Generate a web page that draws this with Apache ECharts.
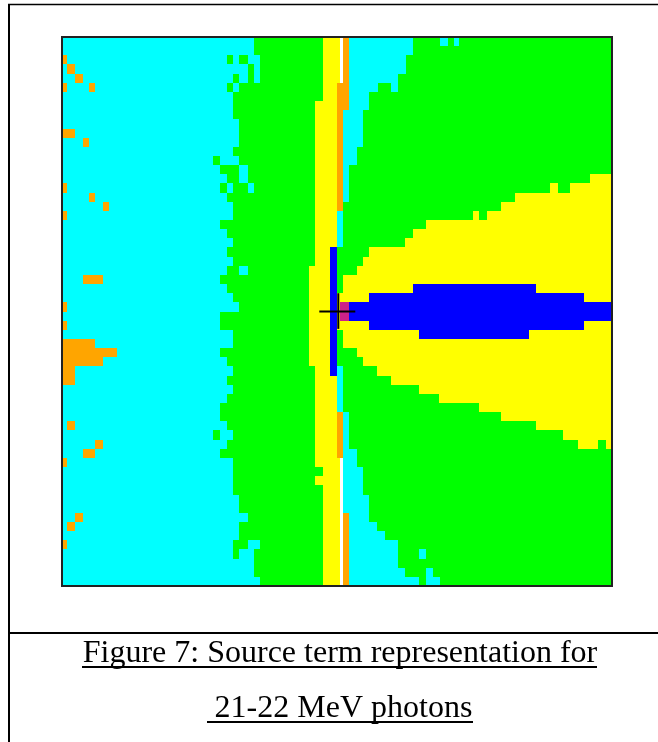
<!DOCTYPE html>
<html>
<head>
<meta charset="utf-8">
<style>html,body{margin:0;padding:0;background:#fff}#c{width:658px;height:742px}</style>
<script src="https://cdn.jsdelivr.net/npm/echarts@6/dist/echarts.min.js"></script>
</head>
<body>
<div id="c"></div>
<script>
// colour classes of the source-term map
const classes = ['#00FFFF', '#00FF00', '#FFFF00', '#FFA500', '#0000FF', '#FFFFFF', '#CC2288'];
const C = 0, G = 1, Y = 2, O = 3, B = 4, W = 5, M = 6;

const rowCount = 60;
const xExtent = 550;
const centreLeft = 275.3;

// per-row band edges (x in map units, 60 rows top to bottom)
const leftGreen = [191.7,191.7,197.7,197.7,197.7,177.3,171.3,171.3,171.3,177.3,
  177.3,177.3,171.3,177.3,157.7,165.3,157.7,165.3,171.3,171.3,
  157.7,165.3,171.3,165.3,171.3,165.3,157.7,165.3,171.3,177.3,
  157.7,157.7,171.3,171.3,157.7,165.3,171.3,165.3,171.3,165.3,
  157.7,157.7,165.3,171.3,165.3,157.7,171.3,171.3,171.3,171.3,
  177.3,177.3,185.7,177.3,177.3,171.3,171.3,191.7,191.7,197.7];
const leftYellow = [261.3,261.3,261.3,261.3,261.3,261.3,261.3,253,253,253,
  253,253,253,253,253,253,253,253,253,253,
  253,253,253,253,253,247,247,247,247,247,
  247,247,247,247,247,247,253,253,253,253,
  253,253,253,253,253,253,253,261.3,253,261.3,
  261.3,261.3,261.3,261.3,261.3,261.3,261.3,261.3,261.3,261.3];
const rightGreen = [351.3,351.3,344,344,336,316,307.3,307.3,301.3,301.3,
  301.3,301.3,295.3,295.3,287.3,287.3,287.3,287.3,281.3,281.3,
  281.3,281.3,281.3,275.3,275.3,275.3,275.3,275.3,275.3,275.3,
  275.3,275.3,275.3,275.3,275.3,275.3,281.3,281.3,281.3,281.3,
  281.3,287.3,287.3,287.3,287.3,295.3,295.3,301.3,301.3,301.3,
  307.3,307.3,307.3,315.3,323.3,336,336,336,343.3,357.3];
const rightYellow = [550,550,550,550,550,550,550,550,550,550,
  550,550,550,550,550,528,488,453.3,439.3,411.3,
  364,351.3,343.3,307.3,301.3,295.3,281.3,281.3,275.3,275.3,
  275.3,275.3,281.3,281.3,295.3,301.3,315.3,329.3,357.3,377.3,
  417.3,439.3,473.7,501.3,515.7,550,550,550,550,550,
  550,550,550,550,550,550,550,550,550,550];

// isolated runs painted over the bands: [firstRow, lastRow, x0, x1, class]
const orangeCells = [[2,2,0,5,O],[3,3,5,13,O],[4,4,13,21,O],[5,5,0,5,O],[5,5,27,33,O],
  [10,10,0,13,O],[11,11,21,27,O],[16,16,0,5,O],[17,17,27,33,O],[18,18,41,47,O],[19,19,0,5,O],
  [26,26,21,41,O],[29,29,0,5,O],[31,31,0,5,O],[33,33,0,33,O],[34,34,0,55,O],[35,35,0,41,O],
  [36,37,0,13,O],[42,42,5,13,O],[44,44,33,41,O],[45,45,21,33,O],[46,46,0,5,O],
  [52,52,13,21,O],[53,53,5,13,O],[55,55,0,5,O]];
const leftIslands = [[2,2,165.3,171.3,G],[2,2,171.3,177.3,C],[2,2,177.3,185.7,G],[2,2,185.7,197.7,C],
  [3,3,185.7,191.7,G],[3,3,191.7,197.7,C],[3,3,165.3,185.7,C],
  [4,4,171.3,177.3,G],[4,4,177.3,185.7,C],[4,4,185.7,191.7,G],[4,4,191.7,197.7,C],[4,4,165.3,171.3,C],
  [5,5,165.3,171.3,G],[5,5,171.3,177.3,C],
  [13,13,151.3,157.7,G],[13,13,157.7,177.3,C],[14,14,177.3,185.7,C],[15,15,165.3,177.3,G],[15,15,177.3,185.7,C],
  [16,16,165.3,171.3,C],[16,16,185.7,191.7,C],[25,25,177.3,185.7,C],
  [43,43,151.3,157.7,G],[43,43,157.7,171.3,C],[55,55,185.7,197.7,C],[56,56,177.3,191.7,C]];
const rightIslands = [[0,0,378,386,C],[0,0,392,397.3,C],[5,5,329.3,336,C],[16,16,495.7,508,G],
  [19,19,417.3,425.3,G],[44,44,535.7,544,G],[56,56,357.3,364,C],[58,58,364,371.3,C],
  [59,59,357.3,364,G],[59,59,364,378,C]];
const centreRuns = [[0,4,275.3,278,Y],[0,4,278,281.3,W],[0,4,281.3,287.3,O],[5,7,275.3,287.3,O],
  [8,18,275.3,281.3,O],[23,36,267.7,275.3,B],[41,45,275.3,281.3,O],
  [46,59,275.3,278,Y],[46,59,278,281.3,W],[52,59,281.3,287.3,O]];
const sourceRuns = [[27,27,351.3,473.7,B],[28,28,307.3,522,B],[29,30,287.3,550,B],[29,30,278,287.3,M],
  [31,31,307.3,522,B],[32,32,357.3,467.3,B]];

// source position marker (x in map units, y in rows)
const crossH = [[257.3, 30], [293.3, 30]];
const crossV = [[276.3, 28], [276.3, 31.9]];

// caption
const captionLines = ['Figure 7: Source term representation for', '21-22 MeV photons'];

const cells = [];
for (let r = 0; r < rowCount; r++) {
  cells.push([r, r, 0, leftGreen[r], C]);
  cells.push([r, r, leftGreen[r], leftYellow[r], G]);
  cells.push([r, r, leftYellow[r], centreLeft, Y]);
  cells.push([r, r, centreLeft, rightGreen[r], C]);
  cells.push([r, r, rightGreen[r], rightYellow[r], G]);
  cells.push([r, r, rightYellow[r], xExtent, Y]);
}
cells.push(...orangeCells, ...leftIslands, ...rightIslands, ...centreRuns, ...sourceRuns);

const chart = echarts.init(document.getElementById('c'), null, {renderer: 'canvas'});
const black = '#000';
chart.setOption({
  animation: false,
  backgroundColor: '#fff',
  grid: {left: 62, top: 37, width: 550, height: 549, containLabel: false},
  xAxis: {type: 'value', min: 0, max: xExtent, show: false},
  yAxis: {type: 'value', min: 0, max: rowCount, inverse: true, show: false},
  series: [
    {
      type: 'custom',
      coordinateSystem: 'cartesian2d',
      clip: true,
      silent: true,
      encode: {x: [2, 3], y: [0, 1]},
      data: cells,
      renderItem: function (params, api) {
        const a = api.coord([api.value(2), api.value(0)]);
        const b = api.coord([api.value(3), api.value(1) + 1]);
        const x0 = Math.round(a[0]), x1 = Math.round(b[0]);
        const y0 = Math.round(a[1]), y1 = Math.round(b[1]);
        return {
          type: 'rect',
          shape: {x: x0, y: y0, width: x1 - x0, height: y1 - y0},
          style: {fill: classes[api.value(4)], stroke: null}
        };
      }
    },
    {type: 'line', data: crossH, symbol: 'none', silent: true, z: 5, lineStyle: {color: black, width: 2}},
    {type: 'line', data: crossV, symbol: 'none', silent: true, z: 5, lineStyle: {color: black, width: 2}}
  ],
  graphic: [
    {type: 'rect', z: 10, silent: true, shape: {x: 62, y: 37, width: 550, height: 549}, style: {fill: null, stroke: '#222', lineWidth: 2}},
    {type: 'line', silent: true, shape: {x1: 9, y1: 4, x2: 9, y2: 742}, style: {stroke: black, lineWidth: 2}},
    {type: 'line', silent: true, shape: {x1: 8, y1: 4.5, x2: 658, y2: 4.5}, style: {stroke: black, lineWidth: 1.5}},
    {type: 'line', silent: true, shape: {x1: 8, y1: 633, x2: 658, y2: 633}, style: {stroke: black, lineWidth: 2}},
    {type: 'text', silent: true, x: 340, y: 653.5, style: {text: captionLines[0], font: '32px "Liberation Serif"', fill: black, align: 'center', verticalAlign: 'middle'}},
    {type: 'text', silent: true, x: 343.5, y: 708.5, style: {text: captionLines[1], font: '32px "Liberation Serif"', fill: black, align: 'center', verticalAlign: 'middle'}},
    {type: 'line', silent: true, shape: {x1: 82, y1: 667, x2: 597, y2: 667}, style: {stroke: black, lineWidth: 2}},
    {type: 'line', silent: true, shape: {x1: 207, y1: 722, x2: 473, y2: 722}, style: {stroke: black, lineWidth: 2}}
  ]
});
</script>
</body>
</html>
